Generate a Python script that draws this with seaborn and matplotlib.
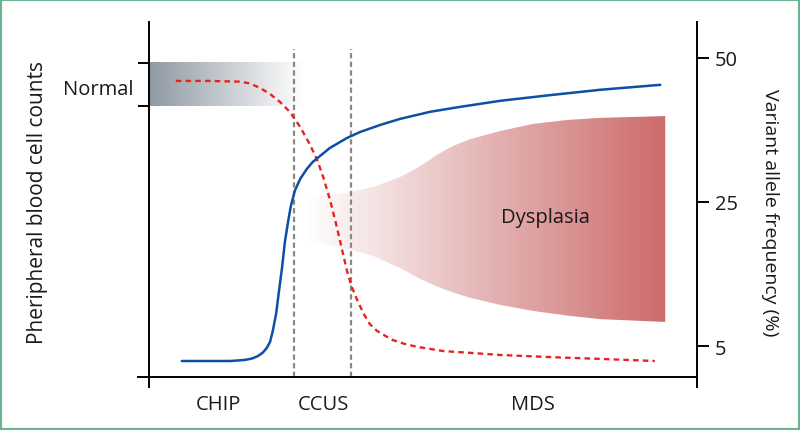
import numpy as np
import matplotlib
matplotlib.use('Agg')
import matplotlib.pyplot as plt
from matplotlib.patches import Rectangle
import seaborn as sns

# disease stages along the x axis (progression, 0-100)
stage_names = ['CHIP', 'CCUS', 'MDS']
stage_label_x = [12.6, 31.8, 70.1]
stage_bounds = [26.5, 36.9]
stage_line_top = 92.4

# peripheral blood cell counts (relative level, red dashed)
count_x = [4.9, 11.1, 16.6, 18.4, 20.3, 22.1, 23.9, 25.7, 27.6, 29.4, 30.7,
           31.8, 33.0, 34.1, 35.2, 36.1, 37.0, 38.0, 39.1, 40.3, 41.6, 43.1,
           44.5, 46.7, 48.9, 53.7, 58.6, 64.1, 73.2, 82.3, 92.3]
count_y = [83.4, 83.4, 83.2, 82.7, 81.4, 79.7, 77.5, 74.7, 70.4, 65.4, 61.1,
           56.3, 50.1, 43.4, 36.1, 30.1, 25.4, 21.7, 18.0, 14.9, 13.0, 11.6,
           10.4, 9.3, 8.5, 7.3, 6.8, 6.2, 5.6, 5.1, 4.5]

# variant allele frequency (blue)
vaf_x = [6.0, 14.8, 17.5, 18.8, 19.9, 20.8, 21.5, 22.1, 22.6, 23.2, 23.7,
         24.3, 24.8, 25.4, 25.9, 26.6, 27.6, 28.8, 29.9, 33.0, 36.1, 38.5,
         42.2, 45.8, 51.3, 56.8, 64.1, 73.2, 82.3, 93.3]
vaf_y = [4.5, 4.5, 4.8, 5.2, 5.9, 6.9, 8.2, 9.9, 13.0, 17.8, 23.9,
         31.0, 38.0, 43.9, 48.2, 52.4, 55.8, 58.6, 60.6, 64.5, 67.3, 69.0,
         71.0, 72.7, 74.7, 76.1, 77.8, 79.4, 80.9, 82.3]
vaf_tick_pos = [89.9, 49.3, 8.7]
vaf_tick_labels = ['50', '25', '5']

# normal range band
normal_range = [76.3, 88.5]
normal_x_end = 28.1

# dysplasia envelope
dys_x = [28.5, 34.9, 40.9, 45.8, 49.5, 52.7, 55.5, 58.6, 64.1, 70.1, 76.3, 82.3, 94.2]
dys_low = [38.9, 36.6, 34.1, 30.7, 27.6, 25.4, 23.8, 22.3, 20.3, 18.6, 17.3, 16.3, 15.5]
dys_high = [50.7, 51.6, 53.5, 56.3, 59.4, 62.7, 65.1, 67.0, 69.3, 71.3, 72.4, 73.0, 73.5]

sns.set_theme(style='white')
plt.rcParams['font.family'] = ['Open Sans', 'DejaVu Sans']
plt.rcParams['lines.scale_dashes'] = False
text_color = '#1a1a1a'

fig = plt.figure(figsize=(8, 4.31), dpi=100)
ax = fig.add_axes([138 / 800, 43 / 431, 559 / 800, 365 / 431])

# normal band, grey fading to white
t = np.linspace(0, 1, 256)
grey = np.array([0.56, 0.60, 0.64])
band = np.ones((1, 256, 3))
band[0] = grey + (1 - grey) * t[:, None]
ax.imshow(band, extent=[0, normal_x_end, normal_range[0], normal_range[1]],
          aspect='auto', interpolation='bilinear', zorder=1)

# dysplasia area, white fading to red
red = np.array([0.80, 0.42, 0.42])
grad = np.ones((1, 256, 3))
grad[0] = 1 - (1 - red) * t[:, None]
poly = ax.fill_between(dys_x, dys_low, dys_high, facecolor='none', edgecolor='none')
im = ax.imshow(grad, extent=[dys_x[0], dys_x[-1], min(dys_low), max(dys_high)],
               aspect='auto', interpolation='bilinear', zorder=1)
im.set_clip_path(poly.get_paths()[0], transform=ax.transData)

ax.vlines(stage_bounds, 0, stage_line_top, colors='#888888', linewidth=1.6,
          linestyles=(0, (3.8, 2.4)), zorder=2)

sns.lineplot(x=count_x, y=count_y, ax=ax, color='#e8231f', linewidth=1.7,
             sort=False, estimator=None, zorder=3)
ax.lines[-1].set_dashes((4.0, 3.0))
sns.lineplot(x=vaf_x, y=vaf_y, ax=ax, color='#0b50a5', linewidth=1.8,
             sort=False, estimator=None, zorder=4)

ax.text(-2.9, 81.1, 'Normal', ha='right', va='center', fontsize=14.5, color=text_color)
ax.text(72.3, 45.1, 'Dysplasia', ha='center', va='center', fontsize=14.5, color=text_color)

ax.set_xlim(-2.0, 100)
ax.set_ylim(-2.82, 100)

for side in ['top', 'right']:
    ax.spines[side].set_visible(False)
for side in ['left', 'bottom']:
    ax.spines[side].set_position(('data', 0))
    ax.spines[side].set_color('black')
    ax.spines[side].set_linewidth(1.4)

ax.set_xticks(stage_label_x, stage_names)
ax.tick_params(axis='x', length=0, pad=12, labelsize=14.5, labelcolor=text_color)
ax.set_yticks(normal_range, ['', ''])
ax.tick_params(axis='y', left=True, direction='out', length=8, width=1.4, color='black')

ax2 = ax.twinx()
ax2.set_ylim(-2.82, 100)
for side in ['top', 'left', 'bottom']:
    ax2.spines[side].set_visible(False)
ax2.spines['right'].set_color('black')
ax2.spines['right'].set_linewidth(1.4)
ax2.set_yticks(vaf_tick_pos, vaf_tick_labels)
ax2.tick_params(axis='y', right=True, direction='out', length=8.6, width=1.4,
                color='black', pad=4, labelsize=14.5, labelcolor=text_color)

fig.text(38 / 800, 1 - 203 / 431, 'Pheripheral blood cell counts', rotation=90,
         ha='center', va='center', fontsize=15, color=text_color)
fig.text(770 / 800, 1 - 213 / 431, 'Variant allele frequency (%)', rotation=270,
         ha='center', va='center', fontsize=14, color=text_color)

fig.patches.append(Rectangle((0, 0), 1, 1, transform=fig.transFigure, fill=False,
                             edgecolor='#6db591', linewidth=3, zorder=10))

fig.savefig('out.png', dpi=100)
